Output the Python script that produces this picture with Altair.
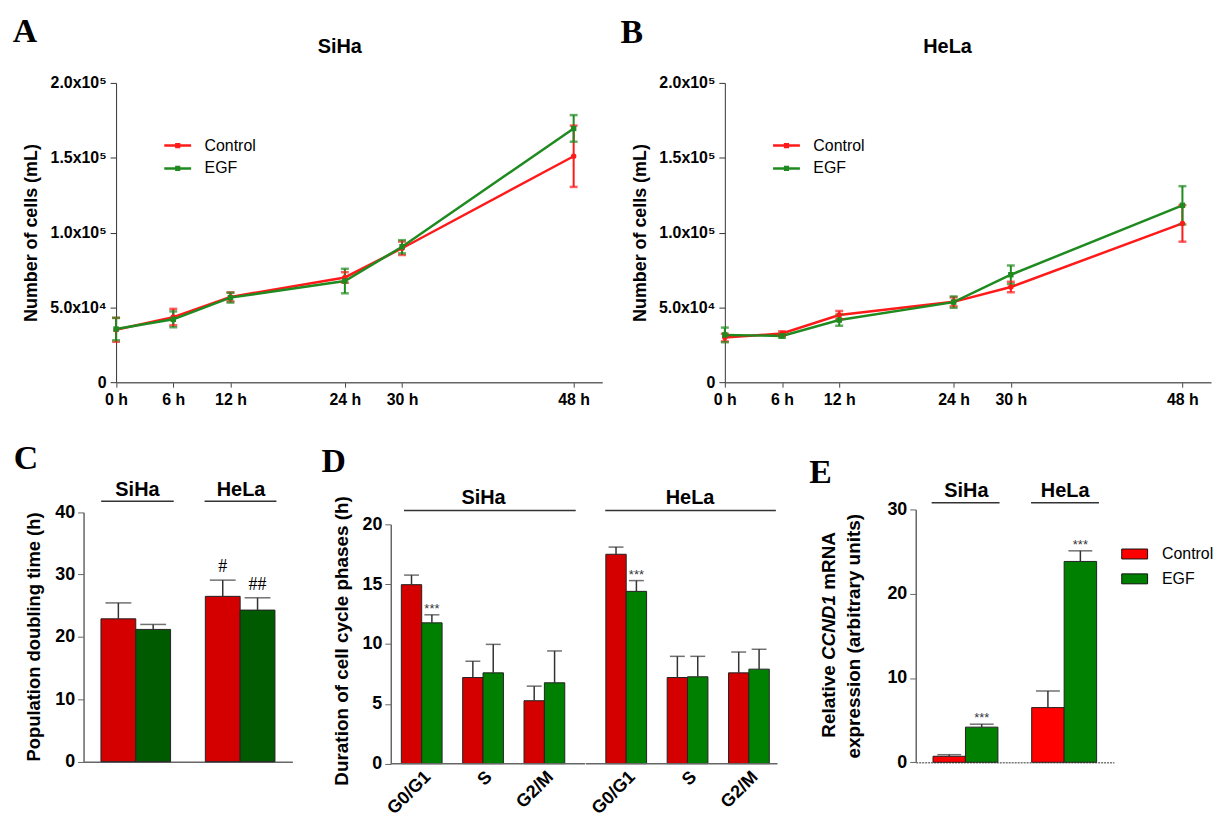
import altair as alt
import pandas as pd

# ---------------- data ----------------
hours = [0, 6, 12, 24, 30, 48]
conditions = ["Control", "EGF"]
cell_lines = ["SiHa", "HeLa"]
phases = ["G0/G1", "S", "G2/M"]

siha_ctrl = [35000, 43500, 57000, 70000, 89500, 151000]
siha_ctrl_err = [8000, 5500, 3000, 3500, 4500, 20500]
siha_egf = [35500, 42000, 56500, 67600, 90500, 169600]
siha_egf_err = [7500, 5300, 3300, 8200, 4400, 8900]

hela_ctrl = [29800, 32500, 44900, 53700, 63600, 106100]
hela_ctrl_err = [2500, 1500, 2600, 3000, 3500, 12200]
hela_egf = [31600, 30900, 41500, 53500, 71800, 118200]
hela_egf_err = [4900, 1200, 3800, 3800, 6200, 12800]

growth_ticks = [0, 50000, 100000, 150000, 200000]

doubling_ctrl = [22.9, 26.5]
doubling_ctrl_err = [2.55, 2.6]
doubling_egf = [21.2, 24.3]
doubling_egf_err = [0.8, 1.97]
doubling_sig_ctrl = ["", "#"]
doubling_sig_egf = ["", "##"]

siha_phase_ctrl = [14.96, 7.2, 5.26]
siha_phase_ctrl_err = [0.8, 1.36, 1.22]
siha_phase_egf = [11.77, 7.59, 6.76]
siha_phase_egf_err = [0.67, 2.38, 2.66]
hela_phase_ctrl = [17.5, 7.2, 7.59]
hela_phase_ctrl_err = [0.6, 1.77, 1.74]
hela_phase_egf = [14.4, 7.26, 7.9]
hela_phase_egf_err = [0.9, 1.71, 1.66]
phase_sig_egf = ["***", "", ""]

ccnd1_ctrl = [0.71, 6.49]
ccnd1_ctrl_err = [0.19, 1.96]
ccnd1_egf = [4.17, 23.83]
ccnd1_egf_err = [0.35, 1.26]
ccnd1_sig_egf = ["***", "***"]

SANS = "Liberation Sans"
SERIF = "Liberation Serif"

# grid column widths (flush layout)
COLS = [308.4, 195.3, 332, 199.3]


def txt(s, x, y, size, font=SANS, weight="bold", style="normal", align="left",
        baseline="alphabetic", angle=0, color="black"):
    return alt.Chart(pd.DataFrame({"t": [s]})).mark_text(
        font=font, fontSize=size, fontWeight=weight, fontStyle=style, align=align,
        baseline=baseline, angle=angle, color=color
    ).encode(text="t:N", x=alt.value(x), y=alt.value(y))


def hline(x1, x2, y, color="#333", w=1.5):
    return alt.Chart(pd.DataFrame({"t": [0]})).mark_rule(color=color, strokeWidth=w).encode(
        x=alt.value(x1), x2=alt.value(x2), y=alt.value(y))


# ---------------- growth panels (A, B) ----------------
def growth_panel(ctrl, ctrl_err, egf, egf_err, title, letter, letter_xy, title_x, shift, view_w):
    n = len(hours)
    df = pd.DataFrame({
        "hour": hours + hours,
        "cond": ["Control"] * n + ["EGF"] * n,
        "mean": ctrl + egf,
        "err": ctrl_err + egf_err,
    })
    df["lo"] = df["mean"] - df["err"]
    df["hi"] = df["mean"] + df["err"]
    label_expr = ("datum.value == 0 ? '0' : datum.value == 50000 ? '5.0x10\u2074' : "
                  "datum.value == 100000 ? '1.0x10\u2075' : datum.value == 150000 ? '1.5x10\u2075' : '2.0x10\u2075'")
    cols = ["#ff1a1a", "#1f8a1f"]
    x = alt.X("hour:Q", scale=alt.Scale(domain=[0, 51], nice=False, zero=False,
                                        range=[shift, shift + 489]),
              axis=alt.Axis(values=hours, labelExpr="datum.value + ' h'", title=None, tickSize=5,
                            labelPadding=4, labelFontSize=16, domainColor="#666", tickColor="#444",
                            domainWidth=1.5, labelFlush=False, labelOverlap=False))
    y = alt.Y("mean:Q", scale=alt.Scale(domain=[0, 200000], nice=False),
              axis=alt.Axis(values=growth_ticks, labelExpr=label_expr, title="Number of cells (mL)",
                            titleX=-85, titleY=150.5, titleAngle=270, titleBaseline="middle",
                            titleAlign="center", titleFontSize=18, tickSize=6, labelPadding=4,
                            labelFontSize=16, domainColor="#333", tickColor="#333",
                            offset=-shift))
    color = alt.Color("cond:N", scale=alt.Scale(domain=conditions, range=cols),
                      legend=alt.Legend(orient="none", legendX=47 + shift, legendY=48, title=None,
                                        symbolType="M-1,0H1M-0.1,-0.1H0.1V0.1H-0.1Z",
                                        symbolSize=729, symbolStrokeWidth=2.5,
                                        labelFontSize=16, labelFontWeight="normal", labelOffset=12,
                                        rowPadding=0, padding=0))
    stroke = alt.Stroke("cond:N", scale=alt.Scale(domain=conditions, range=cols), legend=None)
    fill = alt.Fill("cond:N", scale=alt.Scale(domain=conditions, range=cols), legend=None)
    base = alt.Chart(df)
    line = base.mark_line(strokeWidth=2.5).encode(x=x, y=y, color=color)
    rule = base.mark_rule(strokeWidth=2).encode(x="hour:Q", y="lo:Q", y2="hi:Q", stroke=stroke)
    cap_hi = base.mark_tick(orient="horizontal", size=8, thickness=2.5).encode(
        x="hour:Q", y="hi:Q", fill=fill)
    cap_lo = base.mark_tick(orient="horizontal", size=8, thickness=2.5).encode(
        x="hour:Q", y="lo:Q", fill=fill)
    pts_c = base.transform_filter("datum.cond == 'Control'").mark_point(
        shape="circle", filled=True, size=30, opacity=1, color=cols[0]).encode(x="hour:Q", y="mean:Q")
    pts_e = base.transform_filter("datum.cond == 'EGF'").mark_point(
        shape="square", filled=True, size=30, opacity=1, color=cols[1]).encode(x="hour:Q", y="mean:Q")
    return alt.layer(
        line, rule, cap_hi, cap_lo, pts_c, pts_e,
        txt(title, title_x + shift, -36, 20, baseline="middle", align="center"),
        txt(letter, letter_xy[0] + shift, letter_xy[1], 34, font=SERIF),
    ).resolve_scale(fill="independent", stroke="independent").properties(width=view_w, height=301)


A = growth_panel(siha_ctrl, siha_ctrl_err, siha_egf, siha_egf_err, "SiHa", "A", (-104, -41), 225,
                 32.7, COLS[0])
B = growth_panel(hela_ctrl, hela_ctrl_err, hela_egf, hela_egf_err, "HeLa", "B", (-105, -40), 224,
                 140, COLS[2])

# ---------------- panel C ----------------
dfC = pd.DataFrame({
    "line": cell_lines + cell_lines,
    "cond": ["Control"] * 2 + ["EGF"] * 2,
    "mean": doubling_ctrl + doubling_egf,
    "err": doubling_ctrl_err + doubling_egf_err,
    "sig": doubling_sig_ctrl + doubling_sig_egf,
})
dfC["hi"] = dfC["mean"] + dfC["err"]
xC = alt.X("line:N", sort=cell_lines,
           scale=alt.Scale(paddingInner=0.333, paddingOuter=0.1667, range=[0, 210]),
           axis=alt.Axis(labels=False, ticks=False, title=None, domainColor="#666", domainWidth=1.5))
offC = alt.XOffset("cond:N", sort=conditions, scale=alt.Scale(paddingInner=0, paddingOuter=0))
yC = alt.Y("mean:Q", scale=alt.Scale(domain=[0, 40], nice=False, range=[253.7, 2.7]),
           axis=alt.Axis(values=[0, 10, 20, 30, 40], title="Population doubling time (h)",
                         titleX=-50, titleY=127.8, titleAngle=270, titleBaseline="middle",
                         titleAlign="center", titleFontSize=18.5, tickSize=6, labelPadding=3,
                         labelFontSize=18, domainColor="#666", tickColor="#666", domainWidth=1.5))
colorC = alt.Color("cond:N", scale=alt.Scale(domain=conditions, range=["#d40000", "#005a00"]),
                   legend=None)
bC = alt.Chart(dfC)
C = alt.layer(
    bC.mark_bar(stroke="#222", strokeWidth=1).encode(x=xC, xOffset=offC, y=yC, color=colorC),
    bC.mark_rule(color="#333", strokeWidth=1.5).encode(x=xC, xOffset=offC, y="mean:Q", y2="hi:Q"),
    bC.mark_tick(color="#333", thickness=1.5, size=26).encode(x=xC, xOffset=offC, y="hi:Q"),
    bC.mark_text(font=SERIF, fontSize=18, baseline="alphabetic", dy=-8).encode(
        x=xC, xOffset=offC, y="hi:Q", text="sig:N"),
    txt("SiHa", 54.2, -19.3, 20, baseline="middle", align="center"),
    txt("HeLa", 158.4, -19.3, 20, baseline="middle", align="center"),
    hline(17.7, 90.7, -8.3),
    hline(121.7, 194, -8.3),
    txt("C", -70.3, -41, 34, font=SERIF),
).properties(width=COLS[0], height=253.7)


# ---------------- panel D ----------------
def d_part(ctrl, ctrl_err, egf, egf_err, range_w, p_outer, axis_w, view_w, show_y, group, gx,
           l1, l2, letter):
    df = pd.DataFrame({
        "phase": phases + phases,
        "cond": ["Control"] * 3 + ["EGF"] * 3,
        "mean": ctrl + egf,
        "err": ctrl_err + egf_err,
        "sig": ["", "", ""] + phase_sig_egf,
    })
    df["hi"] = df["mean"] + df["err"]
    x = alt.X("phase:N", sort=phases,
              scale=alt.Scale(paddingInner=0.3355, paddingOuter=p_outer, range=[0, range_w]),
              axis=alt.Axis(title=None, ticks=False, domain=False, labelAngle=315,
                            labelFontSize=18, labelPadding=4))
    off = alt.XOffset("cond:N", sort=conditions, scale=alt.Scale(paddingInner=0, paddingOuter=0))
    if show_y:
        yaxis = alt.Axis(values=[0, 5, 10, 15, 20], title="Duration of cell cycle phases (h)",
                         titleX=-50, titleY=131.7, titleAngle=270, titleBaseline="middle",
                         titleAlign="center", titleFontSize=19, tickSize=6, labelPadding=3,
                         labelFontSize=18, domainColor="#666", tickColor="#666", domainWidth=1.5)
    else:
        yaxis = None
    y = alt.Y("mean:Q", scale=alt.Scale(domain=[0, 20], nice=False, range=[255.7, 15]), axis=yaxis)
    color = alt.Color("cond:N", scale=alt.Scale(domain=conditions, range=["#d40000", "#008000"]),
                      legend=None)
    b = alt.Chart(df)
    layers = [
        b.mark_bar(stroke="#222", strokeWidth=1).encode(x=x, xOffset=off, y=y, color=color),
        b.mark_rule(color="#333", strokeWidth=1.5).encode(x=x, xOffset=off, y="mean:Q", y2="hi:Q"),
        b.mark_tick(color="#333", thickness=1.5, size=15).encode(x=x, xOffset=off, y="hi:Q"),
        b.mark_text(font=SANS, fontSize=13, color="#333", baseline="alphabetic", dy=-2).encode(
            x=x, xOffset=off, y="hi:Q", text="sig:N"),
        alt.Chart(pd.DataFrame({"t": [0]})).mark_rule(color="#666", strokeWidth=1.5).encode(
            y=alt.datum(0), x=alt.value(0), x2=alt.value(axis_w)),
        txt(group, gx, -11.7, 20, baseline="middle", align="center"),
        hline(l1, l2, 1),
    ]
    if letter:
        layers.append(txt(letter, -69.7, -38, 34, font=SERIF))
    return alt.layer(*layers).properties(width=view_w, height=255.7)


D1 = d_part(siha_phase_ctrl, siha_phase_ctrl_err, siha_phase_egf, siha_phase_egf_err,
            185.6, 0.1718, 195.3, COLS[1], True, "SiHa", 93.3, 13.3, 186, "D")
D2 = d_part(hela_phase_ctrl, hela_phase_ctrl_err, hela_phase_egf, hela_phase_egf_err,
            205, 0.329, 193, COLS[2], False, "HeLa", 105, 19.7, 191.3, None)

# ---------------- panel E ----------------
dfE = pd.DataFrame({
    "line": cell_lines + cell_lines,
    "cond": ["Control"] * 2 + ["EGF"] * 2,
    "mean": ccnd1_ctrl + ccnd1_egf,
    "err": ccnd1_ctrl_err + ccnd1_egf_err,
    "sig": ["", ""] + ccnd1_sig_egf,
})
dfE["hi"] = dfE["mean"] + dfE["err"]
xE = alt.X("line:N", sort=cell_lines,
           scale=alt.Scale(paddingInner=0.342, paddingOuter=0.175),
           axis=alt.Axis(labels=False, ticks=False, title=None, domainColor="#777",
                         domainWidth=1.5, domainDash=[2, 1]))
offE = alt.XOffset("cond:N", sort=conditions, scale=alt.Scale(paddingInner=0, paddingOuter=0))
yE = alt.Y("mean:Q", scale=alt.Scale(domain=[0, 30], nice=False, range=[254.3, 0]),
           axis=alt.Axis(values=[0, 10, 20, 30], title=None, tickSize=6, labelPadding=3,
                         labelFontSize=18, domainColor="#666", tickColor="#666", domainWidth=1.5))
colorE = alt.Color("cond:N", scale=alt.Scale(domain=conditions, range=["#ff0000", "#008000"]),
                   legend=alt.Legend(orient="none", legendX=209.7, legendY=34.3, title=None,
                                     symbolType="M-1.3,-0.5H1.3V0.5H-1.3Z", symbolSize=400,
                                     symbolStrokeColor="#111", symbolStrokeWidth=1,
                                     labelFontSize=16, labelFontWeight="normal", labelOffset=17,
                                     rowPadding=6, padding=0))
bE = alt.Chart(dfE)
E = alt.layer(
    bE.mark_bar(stroke="#222", strokeWidth=1).encode(x=xE, xOffset=offE, y=yE, color=colorE),
    bE.mark_rule(color="#333", strokeWidth=1.5).encode(x=xE, xOffset=offE, y="mean:Q", y2="hi:Q"),
    bE.mark_tick(color="#333", thickness=1.5, size=24).encode(x=xE, xOffset=offE, y="hi:Q"),
    bE.mark_text(font=SANS, fontSize=13, color="#333", baseline="alphabetic", dy=-2).encode(
        x=xE, xOffset=offE, y="hi:Q", text="sig:N"),
    txt("SiHa", 51, -18.3, 20, baseline="middle", align="center"),
    txt("HeLa", 150.3, -18.3, 20, baseline="middle", align="center"),
    hline(16, 84.3, -6.7),
    hline(116, 184.3, -6.7),
    txt("Relative", -87.3, 229.6, 19, baseline="middle", angle=270),
    txt("CCND1", -87.3, 151.5, 19, style="italic", baseline="middle", angle=270),
    txt("mRNA", -87.3, 80.8, 19, baseline="middle", angle=270),
    txt("expression (arbitrary units)", -62.3, 127.5, 19, baseline="middle", align="center",
        angle=270),
    txt("E", -107, -27, 34, font=SERIF),
).properties(width=COLS[3], height=254.3)


# ---------------- layout (flat grid with equal column widths, flush bounds) ----------------
def spacer(w):
    return alt.Chart(pd.DataFrame({"v": [0]})).mark_point(opacity=0).encode(
        x=alt.value(0), y=alt.value(0)).properties(width=w, height=301)


chart = alt.concat(
    A, spacer(COLS[1]), B, spacer(COLS[3]),
    C, D1, D2, E,
    columns=4, spacing={"row": 128, "column": 0}, align="each", bounds="flush",
).properties(
    padding={"left": 4, "top": 5, "right": 0, "bottom": 0}
).resolve_scale(
    color="independent", shape="independent", fill="independent", stroke="independent",
    x="independent", y="independent", xOffset="independent"
).configure_view(
    stroke=None
).configure_axis(
    grid=False, labelFont=SANS, labelFontWeight="bold", titleFont=SANS, titleFontWeight="bold",
    labelColor="#000", titleColor="#000"
).configure_legend(labelFont=SANS, labelColor="#000")

chart.save("out.html", embed_options={"renderer": "svg", "actions": False})
